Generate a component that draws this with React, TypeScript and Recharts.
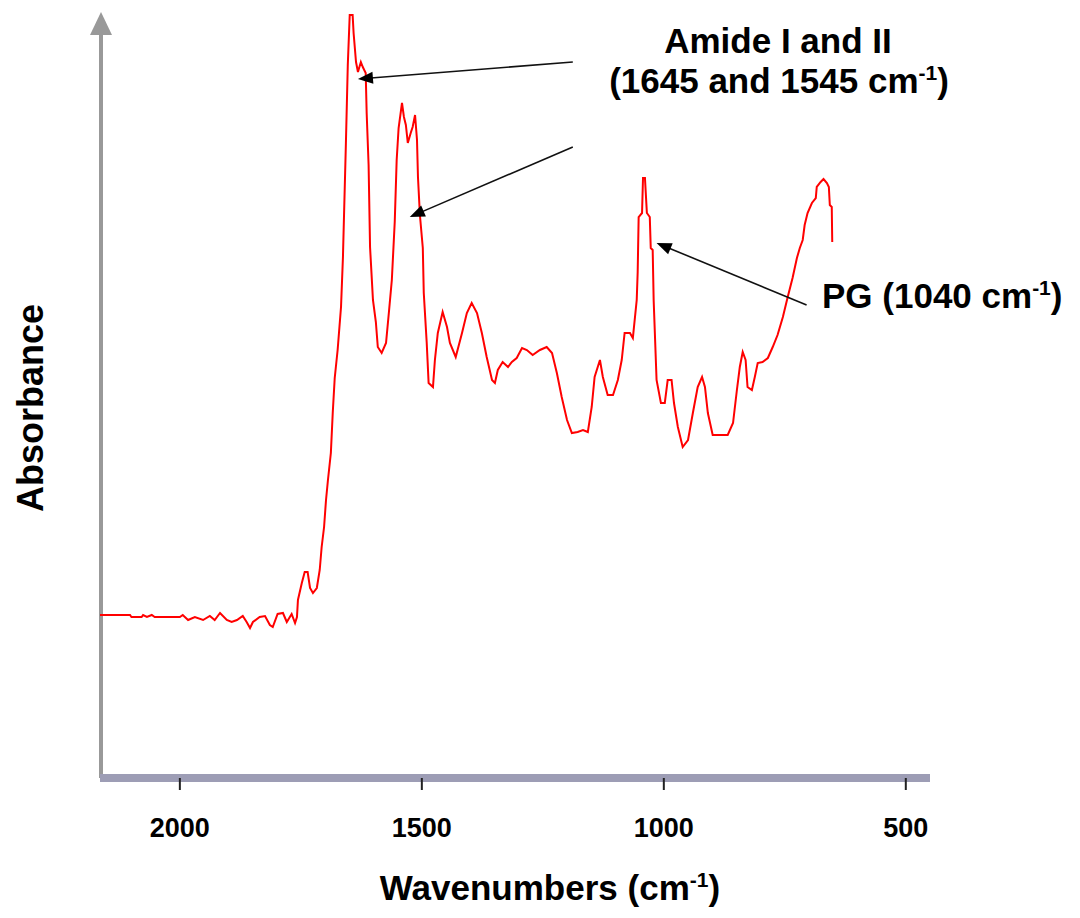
import React from 'react';
import { LineChart, Line, XAxis, YAxis, ReferenceLine } from 'recharts';

// Wavenumber (cm-1) of each sampled point of the spectrum
const wavenumbers = [
  2165, 2103, 2100, 2079, 2076, 2068, 2058, 2052, 2000, 1994, 1983, 1969, 1952, 1938, 1928, 1917,
  1903, 1893, 1882, 1870, 1862, 1855, 1849, 1835, 1824, 1814, 1808, 1798, 1787, 1779, 1769, 1762,
  1758, 1756, 1748, 1742, 1736, 1731, 1725, 1717, 1711, 1707, 1702, 1698, 1694, 1688, 1684, 1680,
  1674, 1667, 1663, 1657, 1653, 1649, 1643, 1641, 1636, 1632, 1626, 1622, 1616, 1614, 1610, 1607,
  1601, 1595, 1591, 1583, 1574, 1568, 1562, 1556, 1552, 1548, 1541, 1537, 1533, 1529, 1523, 1519,
  1514, 1510, 1508, 1504, 1498, 1496, 1490, 1486, 1477, 1473, 1467, 1457, 1448, 1442, 1430, 1417,
  1407, 1397, 1386, 1376, 1366, 1355, 1349, 1343, 1333, 1322, 1314, 1304, 1293, 1283, 1271, 1256,
  1242, 1231, 1221, 1211, 1200, 1190, 1178, 1167, 1157, 1149, 1143, 1132, 1126, 1116, 1105, 1095,
  1087, 1081, 1070, 1064, 1056, 1054, 1052, 1045, 1043, 1039, 1035, 1029, 1027, 1023, 1021, 1015,
  1006, 998, 992, 984, 979, 971, 961, 950, 940, 930, 921, 915, 909, 899, 884, 868,
  857, 849, 843, 837, 831, 827, 818, 812, 806, 796, 785, 775, 765, 754, 744, 734,
  725, 719, 713, 709, 703, 694, 686, 684, 676, 670, 663, 659, 657, 653, 652,
];

// Absorbance (a.u.) at each wavenumber above
const absorbance = [
  0.163, 0.163, 0.161, 0.161, 0.163, 0.161, 0.163, 0.161, 0.161, 0.163, 0.158, 0.161, 0.158, 0.162, 0.158, 0.165,
  0.158, 0.156, 0.158, 0.162, 0.156, 0.150, 0.156, 0.161, 0.162, 0.153, 0.151, 0.164, 0.165, 0.156, 0.164, 0.155,
  0.161, 0.178, 0.195, 0.206, 0.206, 0.190, 0.185, 0.190, 0.208, 0.231, 0.251, 0.278, 0.298, 0.325, 0.366, 0.400,
  0.428, 0.471, 0.521, 0.633, 0.713, 0.763, 0.763, 0.745, 0.716, 0.706, 0.716, 0.711, 0.705, 0.665, 0.613, 0.531,
  0.478, 0.456, 0.431, 0.425, 0.435, 0.466, 0.498, 0.556, 0.618, 0.650, 0.675, 0.661, 0.653, 0.635, 0.645, 0.651,
  0.663, 0.638, 0.601, 0.563, 0.530, 0.485, 0.436, 0.395, 0.391, 0.418, 0.445, 0.466, 0.451, 0.435, 0.421, 0.445,
  0.465, 0.475, 0.465, 0.445, 0.421, 0.398, 0.395, 0.408, 0.416, 0.411, 0.416, 0.420, 0.430, 0.428, 0.423, 0.428,
  0.431, 0.425, 0.405, 0.381, 0.358, 0.345, 0.346, 0.348, 0.346, 0.371, 0.401, 0.418, 0.401, 0.383, 0.383, 0.398,
  0.418, 0.445, 0.445, 0.440, 0.478, 0.506, 0.561, 0.565, 0.600, 0.600, 0.565, 0.561, 0.530, 0.528, 0.478, 0.398,
  0.375, 0.375, 0.398, 0.398, 0.375, 0.351, 0.331, 0.338, 0.365, 0.391, 0.401, 0.391, 0.365, 0.343, 0.343, 0.343,
  0.355, 0.388, 0.411, 0.426, 0.418, 0.391, 0.388, 0.401, 0.415, 0.416, 0.420, 0.431, 0.443, 0.461, 0.481, 0.500,
  0.520, 0.530, 0.538, 0.553, 0.565, 0.575, 0.580, 0.591, 0.596, 0.599, 0.595, 0.591, 0.573, 0.571, 0.536,
];

const xTicks = [2000, 1500, 1000, 500];
const xDomain = [450, 2165];
const yDomain = [0, 0.764];

// annotation arrows: [from wavenumber, from absorbance, to wavenumber, to absorbance]
const arrowAmideI = [1188, 0.716, 1632, 0.699];
const arrowAmideII = [1188, 0.631, 1525, 0.561];
const arrowPG = [705, 0.473, 1015, 0.535];

const spectrum = wavenumbers.map((w, i) => ({ w, a: absorbance[i] }));

const FONT = '"Liberation Sans", Arial, Helvetica, sans-serif';

const ArrowShape = (props: any) => {
  const { x1, y1, x2, y2 } = props;
  const dx = x2 - x1;
  const dy = y2 - y1;
  const len = Math.sqrt(dx * dx + dy * dy) || 1;
  const ux = dx / len;
  const uy = dy / len;
  const hl = 15;
  const hw = 6;
  const bx = x2 - ux * hl;
  const by = y2 - uy * hl;
  const pts = `${x2},${y2} ${bx - uy * hw},${by + ux * hw} ${bx + uy * hw},${by - ux * hw}`;
  return (
    <g>
      <line x1={x1} y1={y1} x2={bx + ux * 2} y2={by + uy * 2} stroke="#111" strokeWidth={1.6} />
      <polygon points={pts} fill="#000" />
    </g>
  );
};

const YAxisArrow = (props: any) => {
  const { x1, y1, x2, y2 } = props;
  const x = x1 + 1;
  const top = Math.min(y1, y2) - 2;
  const bottom = Math.max(y1, y2);
  return (
    <g>
      <line x1={x} y1={top + 20} x2={x} y2={bottom} stroke="#999999" strokeWidth={4} />
      <polygon points={`${x},${top} ${x - 11},${top + 23} ${x + 11},${top + 23}`} fill="#999999" />
    </g>
  );
};

export default function App() {
  return (
    <div style={{ position: 'absolute', left: 0, top: 0, width: 1080, height: 918, background: '#fff' }}>
      <LineChart
        width={1080}
        height={918}
        data={spectrum}
        margin={{ top: 14, right: 150, bottom: 80, left: 100 }}
      >
        <XAxis
          dataKey="w"
          type="number"
          domain={xDomain}
          reversed
          ticks={xTicks}
          allowDataOverflow
          height={60}
          axisLine={{ stroke: '#9d9db5', strokeWidth: 8 }}
          tickLine={{ stroke: '#222', strokeWidth: 2 }}
          tickSize={12}
          tickMargin={28}
          tick={{ fill: '#000', fontSize: 27, fontWeight: 'bold', fontFamily: FONT }}
        />
        <YAxis type="number" domain={yDomain} hide allowDataOverflow />
        <ReferenceLine
          segment={[{ x: 2165, y: 0 }, { x: 2165, y: 0.764 }]}
          ifOverflow="visible"
          shape={YAxisArrow}
        />
        <Line
          dataKey="a"
          type="linear"
          stroke="#ff0000"
          strokeWidth={2}
          dot={false}
          isAnimationActive={false}
        />
        <ReferenceLine
          segment={[{ x: arrowAmideI[0], y: arrowAmideI[1] }, { x: arrowAmideI[2], y: arrowAmideI[3] }]}
          ifOverflow="visible"
          shape={ArrowShape}
        />
        <ReferenceLine
          segment={[{ x: arrowAmideII[0], y: arrowAmideII[1] }, { x: arrowAmideII[2], y: arrowAmideII[3] }]}
          ifOverflow="visible"
          shape={ArrowShape}
        />
        <ReferenceLine
          segment={[{ x: arrowPG[0], y: arrowPG[1] }, { x: arrowPG[2], y: arrowPG[3] }]}
          ifOverflow="visible"
          shape={ArrowShape}
        />
        <text x={778} y={53} textAnchor="middle" fontFamily={FONT} fontWeight="bold" fontSize={35} fill="#000">
          Amide I and II
        </text>
        <text x={779} y={93} textAnchor="middle" fontFamily={FONT} fontWeight="bold" fontSize={35} fill="#000">
          (1645 and 1545 cm
          <tspan fontSize={21} dy={-13}>-1</tspan>
          <tspan dy={13}>)</tspan>
        </text>
        <text x={822} y={308} textAnchor="start" fontFamily={FONT} fontWeight="bold" fontSize={35} fill="#000">
          PG (1040 cm
          <tspan fontSize={21} dy={-13}>-1</tspan>
          <tspan dy={13}>)</tspan>
        </text>
        <text x={550} y={900} textAnchor="middle" fontFamily={FONT} fontWeight="bold" fontSize={35} fill="#000">
          Wavenumbers (cm
          <tspan fontSize={21} dy={-13}>-1</tspan>
          <tspan dy={13}>)</tspan>
        </text>
        <text
          x={43}
          y={408}
          textAnchor="middle"
          transform="rotate(-90, 43, 408)"
          fontFamily={FONT}
          fontWeight="bold"
          fontSize={36}
          fill="#000"
        >
          Absorbance
        </text>
      </LineChart>
    </div>
  );
}
